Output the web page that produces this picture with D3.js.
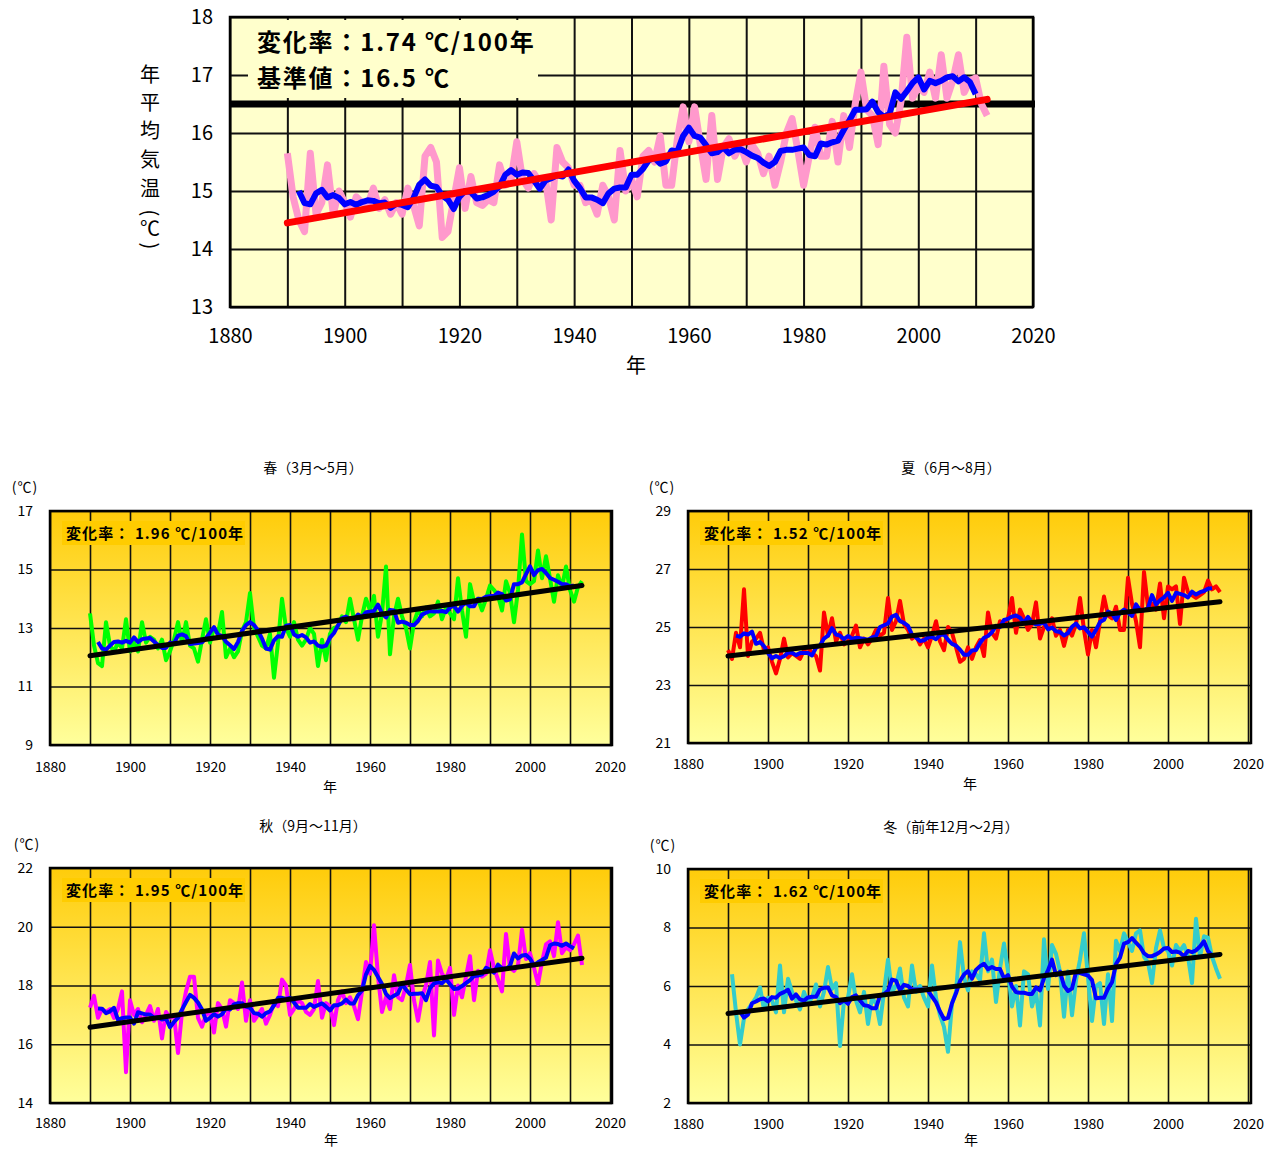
<!DOCTYPE html>
<html>
<head>
<meta charset="utf-8">
<script src="https://cdn.jsdelivr.net/npm/d3@7"></script>
<style>
  body { margin: 0; background: #fff; }
  text { font-family: "Noto Sans CJK JP", "Noto Sans", sans-serif; fill: #000; }
</style>
</head>
<body>
<div id="chart"></div>
<script>
// ---- data ----
const yearTicks = [1880, 1900, 1920, 1940, 1960, 1980, 2000, 2020];

const annualStart = 1890;
const annualTemp = [
  15.65,14.9,14.5,14.3,15.65,14.6,14.8,15.45,14.6,15.0,
  14.8,14.55,14.9,14.8,14.75,15.05,14.7,14.85,14.6,14.8,
  14.6,15.05,14.75,14.4,15.6,15.75,15.5,14.2,14.3,14.85,
  15.4,14.7,15.25,14.8,14.75,14.85,14.8,15.45,15.1,15.2,
  15.85,15.2,15.05,15.3,15.15,15.2,14.5,15.75,15.5,15.4,
  15.1,15.1,14.8,14.85,14.6,15.1,14.9,14.5,15.7,15.0,
  15.2,14.9,15.6,15.7,15.5,15.95,15.1,15.1,15.9,16.45,
  15.85,16.45,15.8,15.2,16.3,15.2,15.75,15.9,15.6,15.8,
  15.5,15.8,15.65,15.3,15.6,15.1,15.5,16.0,16.25,15.7,
  15.1,15.6,16.1,15.6,15.6,16.2,15.5,16.3,15.75,16.5,
  17.05,16.4,16.3,15.8,17.15,16.15,16.0,16.55,17.65,16.6,
  16.8,16.7,17.05,16.6,17.35,16.6,16.9,17.35,16.7,16.9,
  16.95,16.5,16.3
];
const annualTicks = [13, 14, 15, 16, 17, 18];
const annualTrend = [14.45, 16.58];
const annualRate = "1.74";
const annualBase = 16.5;

const springStart = 1890;
const springTemp = [
  13.5,12.4,11.8,11.7,13.2,12.4,12.2,12.5,12.3,13.3,
  12.2,12.5,12.2,13.2,12.5,12.7,12.6,12.3,12.6,11.9,
  12.2,12.6,13.2,12.5,13.2,12.4,12.3,11.85,12.6,13.3,
  12.5,13.0,12.8,13.55,12.0,12.3,12.0,12.2,12.9,13.2,
  14.2,13.0,12.7,12.4,12.3,12.8,11.3,12.5,14.0,13.0,
  12.7,13.2,12.6,12.4,12.6,13.0,12.8,11.7,12.6,11.9,
  12.8,13.0,13.05,13.4,13.2,14.0,13.3,12.6,13.4,14.0,
  13.6,14.1,12.7,13.5,15.1,12.1,13.4,14.0,13.4,13.0,
  12.3,13.2,13.6,13.4,13.7,13.4,13.5,13.9,13.3,13.7,
  13.5,13.3,14.7,13.6,12.7,14.5,13.9,14.0,13.6,14.0,
  14.45,14.3,14.1,13.6,14.6,14.2,13.2,14.3,16.2,14.6,
  14.5,14.6,15.65,14.7,15.45,14.7,13.9,14.8,14.4,15.1,
  14.3,13.9,14.4,14.6
];
const springTicks = [9, 11, 13, 15, 17];
const springTrend = [12.05, 14.45];

const summerStart = 1890;
const summerTemp = [
  24.2,23.9,24.8,24.3,26.3,24.0,24.5,24.6,24.8,24.2,
  24.3,23.8,23.4,23.9,24.6,23.95,24.1,24.0,23.9,24.2,
  24.3,24.1,24.0,23.5,25.5,24.7,25.3,24.5,24.8,24.4,
  24.5,24.7,25.05,24.3,24.6,24.4,24.6,24.9,24.7,24.8,
  26.0,24.9,25.2,25.9,25.1,24.9,24.6,24.7,24.4,24.6,
  24.3,24.7,25.2,24.5,24.2,25.0,24.8,24.3,23.8,23.9,
  24.3,23.9,24.3,24.55,24.0,25.5,24.8,24.6,25.2,25.1,
  25.3,26.0,24.8,25.6,25.3,24.9,25.1,25.85,24.6,25.0,
  25.0,25.3,24.7,24.9,24.35,24.9,24.7,25.1,26.0,24.9,
  24.05,24.9,24.3,25.2,26.05,25.4,25.3,25.7,24.9,24.9,
  26.7,25.8,25.2,24.3,26.9,25.7,25.8,25.6,26.5,25.3,
  26.4,26.3,26.4,25.1,26.7,26.2,26.1,26.0,26.1,26.2,
  26.6,26.3,26.4,26.2
];
const summerTicks = [21, 23, 25, 27, 29];
const summerTrend = [24.0, 25.87];

const autumnStart = 1890;
const autumnTemp = [
  17.25,17.65,16.9,17.2,17.1,17.2,16.9,17.2,17.8,15.05,
  17.5,17.0,17.2,16.75,17.0,17.3,16.8,17.2,16.2,17.1,
  16.9,17.0,15.7,17.1,17.8,18.3,18.3,16.9,16.6,17.0,
  17.1,16.4,17.4,17.2,16.6,17.5,17.4,17.2,18.1,16.8,
  17.5,16.8,17.0,17.2,16.7,17.0,17.4,17.3,18.2,18.0,
  17.0,17.2,17.5,17.4,17.1,17.0,17.2,18.15,16.9,17.4,
  17.3,16.65,17.5,17.8,17.4,17.6,17.3,16.85,17.8,18.8,
  18.4,20.05,18.3,17.1,17.6,17.2,18.35,17.6,17.5,18.0,
  18.7,17.5,16.8,17.6,18.0,18.8,16.3,18.85,18.4,18.2,
  18.6,17.0,18.0,17.6,18.3,19.0,17.5,18.5,18.3,18.4,
  19.2,18.6,18.2,17.8,19.75,18.6,18.5,18.7,19.9,18.9,
  19.1,18.6,18.05,18.8,19.4,19.5,19.0,20.15,19.1,19.3,
  19.2,19.4,19.7,18.7
];
const autumnTicks = [14, 16, 18, 20, 22];
const autumnTrend = [16.58, 18.93];

const winterStart = 1891;
const winterTemp = [
  6.4,5.1,4.0,4.9,5.2,5.4,5.6,5.95,5.2,
  5.6,5.5,5.1,6.7,5.1,6.25,5.8,5.5,5.2,5.8,
  5.4,5.6,6.05,5.3,5.8,6.65,5.9,6.1,3.95,5.5,
  5.6,6.4,5.5,5.1,5.8,4.7,5.6,5.4,4.7,5.8,
  6.9,5.8,6.0,6.6,5.6,5.3,6.7,5.8,6.0,5.6,
  5.3,6.7,5.6,5.0,4.6,3.75,5.4,5.8,7.5,6.3,
  5.85,6.5,6.4,6.2,7.8,6.5,6.9,5.45,6.6,7.45,
  6.5,5.3,6.0,4.65,6.5,6.4,5.3,5.8,4.65,7.6,
  5.9,7.4,7.1,6.5,4.95,6.5,5.0,6.2,6.9,7.8,
  6.3,4.8,6.0,6.1,4.7,6.4,4.8,7.55,7.2,7.8,
  7.5,7.2,7.8,7.9,7.0,6.8,6.1,7.3,7.9,7.3,
  7.2,6.7,7.4,7.2,7.4,7.0,6.1,8.3,7.0,7.7,
  7.65,7.0,6.6,6.25
];
const winterTicks = [2, 4, 6, 8, 10];
const winterTrend = [5.06, 7.08];

const seasonTitles = ["春（3月～5月）", "夏（6月～8月）", "秋（9月～11月）", "冬（前年12月～2月）"];
const seasonRates = ["1.96", "1.52", "1.95", "1.62"];
// vertical axis title: glyph and whether it is turned (parentheses)
const annualAxisChars = [
  ["年", 0], ["平", 0], ["均", 0], ["気", 0], ["温", 0], ["(", 1], ["℃", 0], [")", 1]
];

// ---- helpers ----
const svg = d3.select("#chart").append("svg")
  .attr("width", 1279)
  .attr("height", 1149);

const defs = svg.append("defs");
const grad = defs.append("linearGradient")
  .attr("id", "seasonBg")
  .attr("x1", 0).attr("y1", 0).attr("x2", 0).attr("y2", 1);
grad.append("stop").attr("offset", "0%").attr("stop-color", "#FFCC0A");
grad.append("stop").attr("offset", "100%").attr("stop-color", "#FFFF9C");

function toSeries(start, vals) {
  return vals.map((v, i) => ({ year: start + i, value: v }));
}

// centred 5-year running mean
function runningMean(series) {
  const out = [];
  for (let i = 2; i < series.length - 2; i++) {
    out.push({ year: series[i].year, value: d3.mean(series.slice(i - 2, i + 3), d => d.value) });
  }
  return out;
}

function drawPanel(p) {
  const x = d3.scaleLinear().domain([1880, 2020]).range([p.x0, p.x1]);
  const y = d3.scaleLinear().domain(p.yDomain).range([p.bottom, p.top]);
  const g = svg.append("g");
  const h = p.bottom - p.top;

  g.append("rect")
    .attr("x", p.x0).attr("y", p.top)
    .attr("width", p.right - p.x0).attr("height", h)
    .attr("fill", p.fill);

  // grid
  g.append("g")
    .attr("transform", `translate(0,${p.bottom})`)
    .call(d3.axisBottom(x).tickValues(d3.range(1880, 2021, 10)).tickSize(-h).tickFormat(""))
    .call(s => s.select(".domain").remove())
    .selectAll("line").attr("stroke", "#111").attr("stroke-width", p.gridW);

  g.append("g")
    .attr("transform", `translate(${p.x0},0)`)
    .call(d3.axisLeft(y).tickValues(d3.range(p.yDomain[0], p.yDomain[1] + 0.01, p.gridStep))
      .tickSize(-(p.right - p.x0)).tickFormat(""))
    .call(s => s.select(".domain").remove())
    .selectAll("line").attr("stroke", "#111").attr("stroke-width", p.gridW);

  // rate box
  g.append("rect")
    .attr("x", p.box[0]).attr("y", p.box[1])
    .attr("width", p.box[2]).attr("height", p.box[3])
    .attr("fill", p.boxFill);
  p.boxLines.forEach((t, i) => {
    g.append("text")
      .attr("x", p.box[0] + p.boxPad)
      .attr("y", p.box[1] + p.boxBase + i * p.boxStep)
      .style("font-size", p.boxFont + "px")
      .style("font-weight", "bold")
      .style("letter-spacing", p.boxSpacing + "px")
      .text(t);
  });

  if (p.base !== undefined) {
    g.append("line")
      .attr("x1", p.x0).attr("x2", p.right + 2)
      .attr("y1", y(p.base)).attr("y2", y(p.base))
      .attr("stroke", "#000").attr("stroke-width", 7);
  }

  const line = d3.line().x(d => x(d.year)).y(d => y(d.value));
  const series = toSeries(p.start, p.values);

  g.append("path").datum(series)
    .attr("d", line).attr("fill", "none")
    .attr("stroke", p.color).attr("stroke-width", p.lineW)
    .attr("stroke-linejoin", "round");

  g.append("path").datum(runningMean(series))
    .attr("d", line).attr("fill", "none")
    .attr("stroke", "#0000FF").attr("stroke-width", p.avgW)
    .attr("stroke-linejoin", "round");

  const trend = [
    { year: 1890, value: p.trend[0] },
    { year: series[series.length - 1].year, value: p.trend[1] }
  ];
  g.append("path").datum(trend)
    .attr("d", line).attr("fill", "none")
    .attr("stroke", p.trendColor).attr("stroke-width", p.trendW)
    .attr("stroke-linecap", "round");

  // frame
  g.append("rect")
    .attr("x", p.x0).attr("y", p.top)
    .attr("width", p.right - p.x0).attr("height", h)
    .attr("fill", "none").attr("stroke", "#000").attr("stroke-width", p.frameW);

  // tick labels
  g.append("g")
    .attr("transform", `translate(${p.x0},0)`)
    .call(d3.axisLeft(y).tickValues(p.ticks).tickFormat(d3.format("d")).tickSize(0).tickPadding(p.yPad))
    .call(s => s.select(".domain").remove())
    .selectAll("text").style("font-size", p.font + "px").attr("fill", "#000");

  g.append("g")
    .attr("transform", `translate(0,${p.bottom})`)
    .call(d3.axisBottom(x).tickValues(yearTicks).tickFormat(d3.format("d")).tickSize(0).tickPadding(p.xPad))
    .call(s => s.select(".domain").remove())
    .selectAll("text").style("font-size", p.font + "px").attr("fill", "#000");

  g.append("text")
    .attr("x", p.yearLabel[0]).attr("y", p.yearLabel[1])
    .attr("text-anchor", "middle")
    .style("font-size", p.font + "px")
    .text("年");

  if (p.title) {
    g.append("text")
      .attr("x", p.titlePos[0]).attr("y", p.titlePos[1])
      .attr("text-anchor", "middle")
      .style("font-size", "14px")
      .text(p.title);
    g.append("text")
      .attr("x", p.unitPos[0]).attr("y", p.unitPos[1])
      .attr("text-anchor", "middle")
      .style("font-size", "14px")
      .style("letter-spacing", "1px")
      .text("(℃)");
  }
}

// ---- annual chart ----
drawPanel({
  x0: 230, x1: 1033, right: 1033, top: 17, bottom: 307,
  yDomain: [13, 18], gridStep: 1, ticks: annualTicks,
  fill: "#FFFFCC", gridW: 2, frameW: 2.5,
  box: [248, 20, 290, 78], boxFill: "#FFFFCC", boxPad: 9, boxBase: 31, boxStep: 36,
  boxFont: 24, boxSpacing: 1.8,
  boxLines: ["変化率：" + annualRate + " ℃/100年", "基準値：" + annualBase + " ℃"],
  base: annualBase,
  start: annualStart, values: annualTemp, trend: annualTrend,
  color: "#FF99CC", lineW: 7, avgW: 6, trendColor: "#FF0000", trendW: 7,
  font: 20, yPad: 17, xPad: 22, yearLabel: [636, 373]
});

// vertical axis title, one glyph per line; parentheses turned a quarter
const charY = [75, 103, 131, 160, 189, 213, 229, 246];
svg.append("g").selectAll("text")
  .data(annualAxisChars)
  .enter()
  .append("text")
  .attr("x", 150)
  .attr("y", (d, i) => charY[i])
  .attr("dy", "0.35em")
  .attr("text-anchor", "middle")
  .attr("transform", (d, i) => d[1] ? `rotate(90,150,${charY[i]})` : null)
  .style("font-size", "20px")
  .text(d => d[0]);

// ---- seasonal charts ----
const seasonPanels = [
  { x0: 50, x1: 610, right: 612, top: 511, bottom: 745, yDomain: [9, 17], ticks: springTicks,
    start: springStart, values: springTemp, trend: springTrend, color: "#00FF00",
    xPad: 17, yearLabel: [330, 792], titlePos: [313, 473], unitPos: [25, 492] },
  { x0: 688, x1: 1248, right: 1251, top: 511, bottom: 743, yDomain: [21, 29], ticks: summerTicks,
    start: summerStart, values: summerTemp, trend: summerTrend, color: "#FF0000",
    xPad: 16, yearLabel: [970, 789], titlePos: [951, 473], unitPos: [662, 492] },
  { x0: 50, x1: 610, right: 612, top: 868, bottom: 1103, yDomain: [14, 22], ticks: autumnTicks,
    start: autumnStart, values: autumnTemp, trend: autumnTrend, color: "#FF00FF",
    xPad: 15, yearLabel: [331, 1145], titlePos: [313, 831], unitPos: [27, 849] },
  { x0: 688, x1: 1248, right: 1251, top: 869, bottom: 1103, yDomain: [2, 10], ticks: winterTicks,
    start: winterStart, values: winterTemp, trend: winterTrend, color: "#33CCCC",
    xPad: 16, yearLabel: [971, 1145], titlePos: [951, 832], unitPos: [663, 850] }
];

seasonPanels.forEach((s, i) => {
  drawPanel(Object.assign({
    gridStep: 2, fill: "url(#seasonBg)", gridW: 1.6, frameW: 2.5,
    box: [s.x0 + 12, s.top + 10, 183, 24], boxFill: "#FFCC00", boxPad: 4, boxBase: 18, boxStep: 0,
    boxFont: 15, boxSpacing: 1.1,
    boxLines: ["変化率： " + seasonRates[i] + " ℃/100年"],
    lineW: 4, avgW: 4, trendColor: "#000", trendW: 5,
    font: 14, yPad: 17, title: seasonTitles[i]
  }, s));
});
</script>
</body>
</html>
